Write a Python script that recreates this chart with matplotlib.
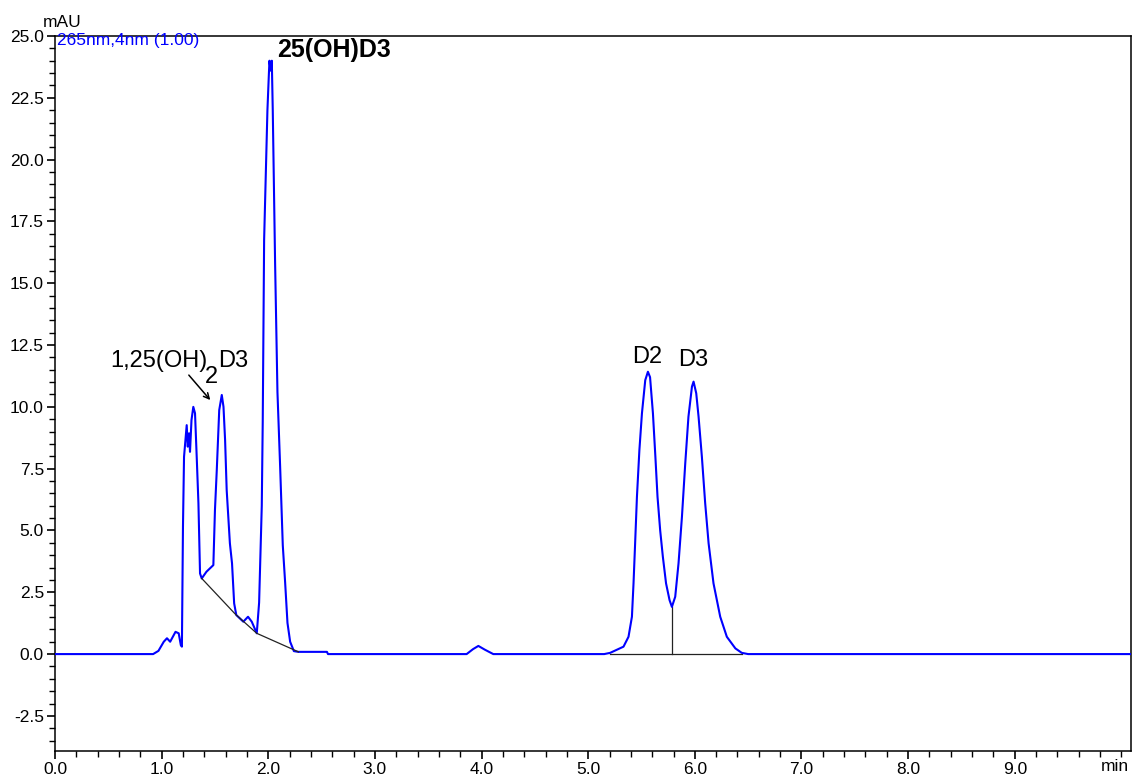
import matplotlib
matplotlib.use("Agg")
import matplotlib.pyplot as plt
from matplotlib.ticker import FixedLocator, MultipleLocator, FormatStrFormatter

plt.rcParams["font.family"] = ["Liberation Sans", "DejaVu Sans"]

# chromatogram trace (min, mAU)
time_min = [
    0.0, 0.92, 0.97, 1.02, 1.05, 1.08, 1.13, 1.16, 1.18, 1.19,
    1.20, 1.21, 1.235, 1.245, 1.257, 1.266, 1.28, 1.297, 1.313, 1.33,
    1.345, 1.36, 1.376, 1.42, 1.485, 1.50, 1.517, 1.54, 1.564, 1.58,
    1.595, 1.61, 1.64, 1.66, 1.68, 1.70, 1.766, 1.81, 1.845, 1.892,
    1.914, 1.939, 1.948, 1.961, 1.979, 1.992, 2.005, 2.011, 2.022, 2.033,
    2.042, 2.064, 2.086, 2.111, 2.136, 2.158, 2.18, 2.205, 2.24, 2.28,
    2.55, 2.56, 3.86, 3.92, 3.97, 4.03, 4.11, 5.15, 5.206, 5.331,
    5.378, 5.41, 5.425, 5.44, 5.457, 5.48, 5.504, 5.535, 5.56, 5.58,
    5.607, 5.63, 5.65, 5.675, 5.70, 5.73, 5.763, 5.785, 5.816, 5.847,
    5.879, 5.91, 5.94, 5.973, 5.988, 6.013, 6.035, 6.066, 6.097, 6.129,
    6.175, 6.238, 6.30, 6.38, 6.44, 6.50, 10.09,
]
signal_mau = [
    0.0, 0.0, 0.13, 0.5, 0.64, 0.5, 0.9, 0.84, 0.36, 0.3,
    5.15, 7.98, 9.26, 8.39, 8.93, 8.18, 9.47, 10.0, 9.74, 7.85,
    6.1, 3.26, 3.06, 3.33, 3.6, 5.83, 7.44, 9.87, 10.48, 10.0,
    8.66, 6.63, 4.48, 3.67, 2.05, 1.58, 1.31, 1.51, 1.31, 0.84,
    2.08, 6.0, 9.4, 16.75, 19.8, 22.0, 23.4, 24.0, 23.6, 24.0,
    22.0, 15.8, 10.6, 7.6, 4.4, 2.9, 1.26, 0.5, 0.12, 0.09,
    0.09, 0.0, 0.0, 0.2, 0.33, 0.18, 0.0, 0.0, 0.05, 0.3,
    0.7, 1.51, 2.86, 4.48, 6.36, 8.25, 9.74, 11.08, 11.42, 11.2,
    9.74, 7.98, 6.36, 5.0, 3.94, 2.86, 2.18, 1.91, 2.32, 3.67,
    5.55, 7.71, 9.6, 10.82, 11.02, 10.55, 9.6, 7.98, 6.1, 4.48,
    2.86, 1.51, 0.7, 0.23, 0.05, 0.0, 0.0,
]

# integration baselines drawn by the software
base1_t = [1.376, 1.69, 1.892, 2.283]
base1_y = [3.06, 1.62, 0.84, 0.09]
base2_t = [5.206, 6.44]
base2_y = [0.0, 0.0]
split_t = [5.785, 5.785]
split_y = [0.0, 1.91]

x_ticks = [0, 1, 2, 3, 4, 5, 6, 7, 8, 9]

W, H = 1133, 776
fig = plt.figure(figsize=(W / 100, H / 100), dpi=100)
ax = fig.add_axes([55 / W, 1 - 751 / H, (1131 - 55) / W, (751 - 36) / H])

ax.plot(time_min, signal_mau, color="#0000ff", lw=1.5, zorder=3)
ax.plot(base1_t, base1_y, color="#222222", lw=0.9, zorder=4)
ax.plot(base2_t, base2_y, color="#222222", lw=0.9, zorder=2)
ax.plot(split_t, split_y, color="#222222", lw=0.9, zorder=2)

ax.set_xlim(0, 10.09)
ax.set_ylim(-3.92, 25.0)

ax.xaxis.set_major_locator(FixedLocator(x_ticks))
ax.xaxis.set_minor_locator(MultipleLocator(0.2))
ax.yaxis.set_major_locator(MultipleLocator(2.5))
ax.yaxis.set_minor_locator(MultipleLocator(0.5))
ax.xaxis.set_major_formatter(FormatStrFormatter("%.1f"))
ax.yaxis.set_major_formatter(FormatStrFormatter("%.1f"))
ax.tick_params(which="major", direction="out", length=6, width=1.2, labelsize=12.5, pad=2)
ax.tick_params(which="minor", direction="out", length=4, width=1.0)
for s in ax.spines.values():
    s.set_linewidth(1.1)

# peak labels
lab = dict(fontsize=17, color="black", va="baseline", ha="left")
ax.text(2.083, 24.15, "25(OH)D3", fontweight="bold", fontsize=18, va="baseline", ha="left")
ax.text(5.41, 11.77, "D2", **lab)
ax.text(5.84, 11.65, "D3", **lab)
ax.text(0.516, 11.61, "1,25(OH)", **lab)
ax.text(1.405, 10.95, "2", **lab)
ax.text(1.53, 11.61, "D3", **lab)
ax.annotate("", xy=(1.473, 10.19), xytext=(1.238, 11.37),
            arrowprops=dict(arrowstyle="->", color="black", lw=1.1))

ax.text(0.002, 1.004, "265nm,4nm (1.00)", transform=ax.transAxes, color="#0000ff",
        fontsize=12.5, va="top", ha="left")
fig.text(43 / W, 1 - 27 / H, "mAU", fontsize=12.5, va="baseline", ha="left")
fig.text(1129 / W, 1 - 771 / H, "min", fontsize=12.5, va="baseline", ha="right")

fig.savefig("out.png", dpi=100)
